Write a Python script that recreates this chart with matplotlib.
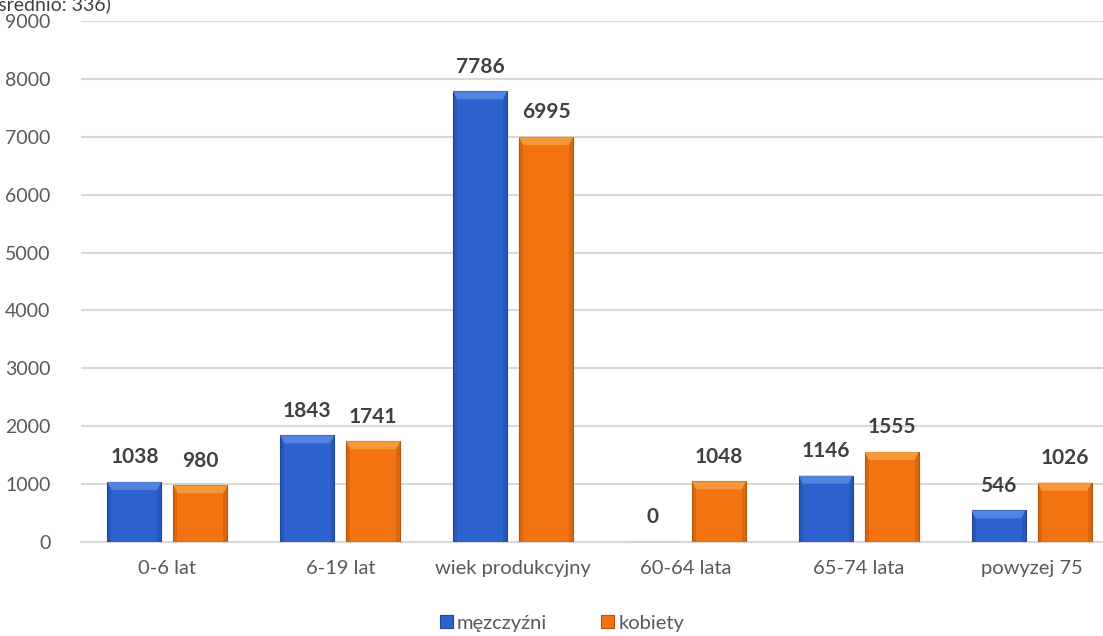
import numpy as np
import matplotlib
matplotlib.use("Agg")
import matplotlib.pyplot as plt
from matplotlib.patches import Polygon, Rectangle

plt.rcParams['font.family'] = ['Lato', 'DejaVu Sans']

# data
categories = ['0-6 lat', '6-19 lat', 'wiek produkcyjny', '60-64 lata', '65-74 lata', 'powyzej 75']
men = [1038, 1843, 7786, 0, 1146, 546]
women = [980, 1741, 6995, 1048, 1555, 1026]
series_names = ['męzczyźni', 'kobiety']
y_ticks = [0, 1000, 2000, 3000, 4000, 5000, 6000, 7000, 8000, 9000]

blue = '#2E63CF'
blue_dark = '#1E4599'
blue_light = '#5A8BE6'
orange = '#F2730F'
orange_dark = '#B8550A'
orange_light = '#F9A040'

fig = plt.figure(figsize=(11.03, 6.36), dpi=100)
ax = fig.add_axes([81 / 1103, 94 / 636, 1037 / 1103, 521 / 636])

x = np.arange(len(categories))
bw = 0.312
off = 0.191


def bevel_bars(ax, xs, vals, main, dark, light):
    bars = ax.bar(xs, vals, bw, color=main, edgecolor=dark, linewidth=0.8, zorder=3)
    # fake 3d bevel: darker sides and lighter top band
    px_x = 1.0 / 173  # one pixel in data x units
    px_y = 9000 / 521.0  # one pixel in data y units
    for b in bars:
        h = b.get_height()
        if h <= 0:
            continue
        x0 = b.get_x()
        x1 = x0 + b.get_width()
        s = 4 * px_x
        t = min(8 * px_y, h * 0.4)
        ax.add_patch(Rectangle((x0, 0), s, h, color=dark, alpha=0.4, lw=0, zorder=4))
        ax.add_patch(Rectangle((x1 - s, 0), s, h, color=dark, alpha=0.4, lw=0, zorder=4))
        ax.add_patch(Polygon([(x0, h), (x1, h), (x1 - s, h - t), (x0 + s, h - t)],
                             closed=True, color=light, alpha=0.85, lw=0, zorder=4))
    return bars


bm = bevel_bars(ax, x - off, men, blue, blue_dark, blue_light)
bk = bevel_bars(ax, x + off, women, orange, orange_dark, orange_light)

for bars, vals in ((bm, men), (bk, women)):
    for b, v in zip(bars, vals):
        ax.annotate(str(v), (b.get_x() + b.get_width() / 2, v), xytext=(0, 10.5),
                    textcoords='offset points', ha='center', va='bottom',
                    fontsize=15, fontweight='bold', color='#404040', zorder=5)

ax.set_xlim(-0.5, len(categories) - 0.5)
ax.set_ylim(0, 9000)
ax.set_yticks(y_ticks)
ax.set_xticks(x)
ax.set_xticklabels(categories)
ax.tick_params(axis='y', length=0, pad=22, labelsize=14, labelcolor='#595959')
ax.tick_params(axis='x', length=0, pad=13, labelsize=14.5, labelcolor='#595959')
ax.grid(axis='y', color='#D9D9D9', linewidth=1.5, zorder=0)
for sp in ['top', 'right', 'left']:
    ax.spines[sp].set_visible(False)
ax.spines['bottom'].set_color('#D9D9D9')
ax.spines['bottom'].set_linewidth(1.5)

leg = fig.legend([bm[0], bk[0]], series_names, loc='center', bbox_to_anchor=(562 / 1103, 1 - 623 / 636),
                 ncol=2, frameon=False, fontsize=14.5, handlelength=0.65, handleheight=0.65,
                 handletextpad=0.2, columnspacing=2.7)
for t in leg.get_texts():
    t.set_color('#595959')

# cut-off subtitle at the very top
fig.text(-0.006, 1 - 10 / 636, '(średnio: 336)', fontsize=14, color='#404040', va='baseline', ha='left')

fig.savefig('out.png', dpi=100)
